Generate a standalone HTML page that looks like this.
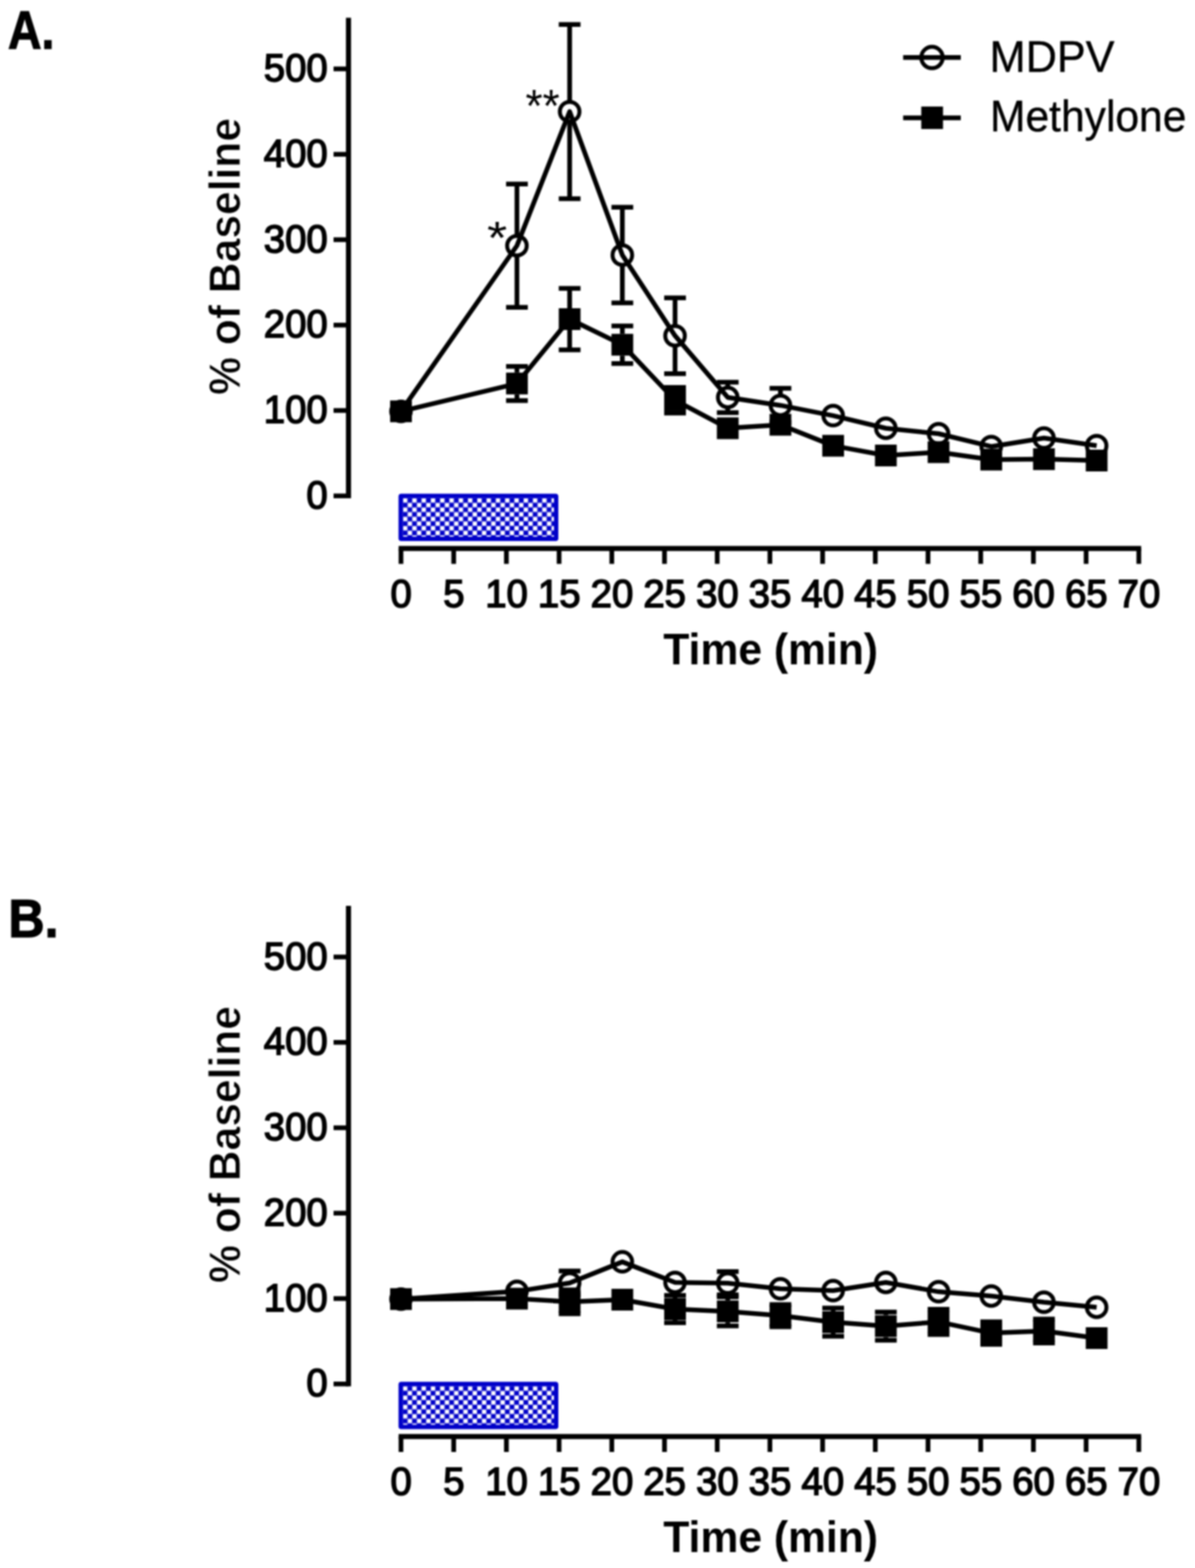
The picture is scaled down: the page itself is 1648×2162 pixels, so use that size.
<!DOCTYPE html>
<html><head><meta charset="utf-8"><title>MDPV vs Methylone</title>
<style>html,body{margin:0;padding:0;background:#fff;}svg{display:block;filter:blur(0.8px);}</style>
</head><body>
<svg width="1648" height="2162" viewBox="0 0 1648 2162">
<defs><pattern id="chk" x="555.6" y="686.8" width="12.8" height="12.8" patternUnits="userSpaceOnUse"><rect width="12.8" height="12.8" fill="#0000c8"/><rect x="0.15" y="0.15" width="6.1" height="6.1" fill="#fff"/><rect x="6.55" y="6.55" width="6.1" height="6.1" fill="#fff"/></pattern></defs>
<rect width="1648" height="2162" fill="#fff"/>
<g><text x="11.00" y="66.50" textLength="64.00" lengthAdjust="spacingAndGlyphs" stroke="#000" stroke-width="1.5" style="font-family:'Liberation Sans',Arial,sans-serif;font-size:75px;font-weight:bold">A.</text>
<line x1="480.6" y1="24.5" x2="480.6" y2="687.00" stroke="#000" stroke-width="7"/>
<line x1="460" y1="683.75" x2="480.6" y2="683.75" stroke="#000" stroke-width="6.5"/>
<text x="452.00" y="700.80" text-anchor="end" textLength="29.39" lengthAdjust="spacingAndGlyphs" stroke="#000" stroke-width="2.0" style="font-family:'Liberation Sans',Arial,sans-serif;font-size:54.5px;font-weight:normal">0</text>
<line x1="460" y1="566.00" x2="480.6" y2="566.00" stroke="#000" stroke-width="6.5"/>
<text x="452.00" y="583.05" text-anchor="end" textLength="88.18" lengthAdjust="spacingAndGlyphs" stroke="#000" stroke-width="2.0" style="font-family:'Liberation Sans',Arial,sans-serif;font-size:54.5px;font-weight:normal">100</text>
<line x1="460" y1="448.25" x2="480.6" y2="448.25" stroke="#000" stroke-width="6.5"/>
<text x="452.00" y="465.30" text-anchor="end" textLength="88.18" lengthAdjust="spacingAndGlyphs" stroke="#000" stroke-width="2.0" style="font-family:'Liberation Sans',Arial,sans-serif;font-size:54.5px;font-weight:normal">200</text>
<line x1="460" y1="330.50" x2="480.6" y2="330.50" stroke="#000" stroke-width="6.5"/>
<text x="452.00" y="347.55" text-anchor="end" textLength="88.18" lengthAdjust="spacingAndGlyphs" stroke="#000" stroke-width="2.0" style="font-family:'Liberation Sans',Arial,sans-serif;font-size:54.5px;font-weight:normal">300</text>
<line x1="460" y1="212.75" x2="480.6" y2="212.75" stroke="#000" stroke-width="6.5"/>
<text x="452.00" y="229.80" text-anchor="end" textLength="88.18" lengthAdjust="spacingAndGlyphs" stroke="#000" stroke-width="2.0" style="font-family:'Liberation Sans',Arial,sans-serif;font-size:54.5px;font-weight:normal">400</text>
<line x1="460" y1="95.00" x2="480.6" y2="95.00" stroke="#000" stroke-width="6.5"/>
<text x="452.00" y="112.05" text-anchor="end" textLength="88.18" lengthAdjust="spacingAndGlyphs" stroke="#000" stroke-width="2.0" style="font-family:'Liberation Sans',Arial,sans-serif;font-size:54.5px;font-weight:normal">500</text>
<text x="0.00" y="0.00" textLength="381.89" lengthAdjust="spacingAndGlyphs" stroke="#fff" stroke-width="0.8" transform="translate(330.6,544.5) rotate(-90)" style="font-family:'Liberation Sans',Arial,sans-serif;font-size:61px;font-weight:bold">% of Baseline</text>
<line x1="549.75" y1="756.25" x2="1573.77" y2="756.25" stroke="#000" stroke-width="7"/>
<line x1="553.00" y1="756.25" x2="553.00" y2="777.5" stroke="#000" stroke-width="6.5"/>
<text x="553.20" y="836.50" text-anchor="middle" textLength="29.39" lengthAdjust="spacingAndGlyphs" stroke="#000" stroke-width="2.0" style="font-family:'Liberation Sans',Arial,sans-serif;font-size:54.5px;font-weight:normal">0</text>
<line x1="625.68" y1="756.25" x2="625.68" y2="777.5" stroke="#000" stroke-width="6.5"/>
<text x="625.88" y="836.50" text-anchor="middle" textLength="29.39" lengthAdjust="spacingAndGlyphs" stroke="#000" stroke-width="2.0" style="font-family:'Liberation Sans',Arial,sans-serif;font-size:54.5px;font-weight:normal">5</text>
<line x1="698.36" y1="756.25" x2="698.36" y2="777.5" stroke="#000" stroke-width="6.5"/>
<text x="698.56" y="836.50" text-anchor="middle" textLength="58.79" lengthAdjust="spacingAndGlyphs" stroke="#000" stroke-width="2.0" style="font-family:'Liberation Sans',Arial,sans-serif;font-size:54.5px;font-weight:normal">10</text>
<line x1="771.04" y1="756.25" x2="771.04" y2="777.5" stroke="#000" stroke-width="6.5"/>
<text x="771.24" y="836.50" text-anchor="middle" textLength="58.79" lengthAdjust="spacingAndGlyphs" stroke="#000" stroke-width="2.0" style="font-family:'Liberation Sans',Arial,sans-serif;font-size:54.5px;font-weight:normal">15</text>
<line x1="843.72" y1="756.25" x2="843.72" y2="777.5" stroke="#000" stroke-width="6.5"/>
<text x="843.92" y="836.50" text-anchor="middle" textLength="58.79" lengthAdjust="spacingAndGlyphs" stroke="#000" stroke-width="2.0" style="font-family:'Liberation Sans',Arial,sans-serif;font-size:54.5px;font-weight:normal">20</text>
<line x1="916.40" y1="756.25" x2="916.40" y2="777.5" stroke="#000" stroke-width="6.5"/>
<text x="916.60" y="836.50" text-anchor="middle" textLength="58.79" lengthAdjust="spacingAndGlyphs" stroke="#000" stroke-width="2.0" style="font-family:'Liberation Sans',Arial,sans-serif;font-size:54.5px;font-weight:normal">25</text>
<line x1="989.08" y1="756.25" x2="989.08" y2="777.5" stroke="#000" stroke-width="6.5"/>
<text x="989.28" y="836.50" text-anchor="middle" textLength="58.79" lengthAdjust="spacingAndGlyphs" stroke="#000" stroke-width="2.0" style="font-family:'Liberation Sans',Arial,sans-serif;font-size:54.5px;font-weight:normal">30</text>
<line x1="1061.76" y1="756.25" x2="1061.76" y2="777.5" stroke="#000" stroke-width="6.5"/>
<text x="1061.96" y="836.50" text-anchor="middle" textLength="58.79" lengthAdjust="spacingAndGlyphs" stroke="#000" stroke-width="2.0" style="font-family:'Liberation Sans',Arial,sans-serif;font-size:54.5px;font-weight:normal">35</text>
<line x1="1134.44" y1="756.25" x2="1134.44" y2="777.5" stroke="#000" stroke-width="6.5"/>
<text x="1134.64" y="836.50" text-anchor="middle" textLength="58.79" lengthAdjust="spacingAndGlyphs" stroke="#000" stroke-width="2.0" style="font-family:'Liberation Sans',Arial,sans-serif;font-size:54.5px;font-weight:normal">40</text>
<line x1="1207.12" y1="756.25" x2="1207.12" y2="777.5" stroke="#000" stroke-width="6.5"/>
<text x="1207.32" y="836.50" text-anchor="middle" textLength="58.79" lengthAdjust="spacingAndGlyphs" stroke="#000" stroke-width="2.0" style="font-family:'Liberation Sans',Arial,sans-serif;font-size:54.5px;font-weight:normal">45</text>
<line x1="1279.80" y1="756.25" x2="1279.80" y2="777.5" stroke="#000" stroke-width="6.5"/>
<text x="1280.00" y="836.50" text-anchor="middle" textLength="58.79" lengthAdjust="spacingAndGlyphs" stroke="#000" stroke-width="2.0" style="font-family:'Liberation Sans',Arial,sans-serif;font-size:54.5px;font-weight:normal">50</text>
<line x1="1352.48" y1="756.25" x2="1352.48" y2="777.5" stroke="#000" stroke-width="6.5"/>
<text x="1352.68" y="836.50" text-anchor="middle" textLength="58.79" lengthAdjust="spacingAndGlyphs" stroke="#000" stroke-width="2.0" style="font-family:'Liberation Sans',Arial,sans-serif;font-size:54.5px;font-weight:normal">55</text>
<line x1="1425.16" y1="756.25" x2="1425.16" y2="777.5" stroke="#000" stroke-width="6.5"/>
<text x="1425.36" y="836.50" text-anchor="middle" textLength="58.79" lengthAdjust="spacingAndGlyphs" stroke="#000" stroke-width="2.0" style="font-family:'Liberation Sans',Arial,sans-serif;font-size:54.5px;font-weight:normal">60</text>
<line x1="1497.84" y1="756.25" x2="1497.84" y2="777.5" stroke="#000" stroke-width="6.5"/>
<text x="1498.04" y="836.50" text-anchor="middle" textLength="58.79" lengthAdjust="spacingAndGlyphs" stroke="#000" stroke-width="2.0" style="font-family:'Liberation Sans',Arial,sans-serif;font-size:54.5px;font-weight:normal">65</text>
<line x1="1570.52" y1="756.25" x2="1570.52" y2="777.5" stroke="#000" stroke-width="6.5"/>
<text x="1570.72" y="836.50" text-anchor="middle" textLength="58.79" lengthAdjust="spacingAndGlyphs" stroke="#000" stroke-width="2.0" style="font-family:'Liberation Sans',Arial,sans-serif;font-size:54.5px;font-weight:normal">70</text>
<text x="914.75" y="915.95" textLength="296.14" lengthAdjust="spacingAndGlyphs" style="font-family:'Liberation Sans',Arial,sans-serif;font-size:61px;font-weight:bold">Time (min)</text>
<rect x="552.6" y="683.8" width="214.4" height="59.2" rx="0.8" fill="url(#chk)" stroke="#0000c8" stroke-width="6"/>
<polyline points="553.00,567.18 712.90,338.74 785.58,153.88 858.26,351.69 930.94,462.97 1003.62,547.98 1076.30,558.93 1148.98,573.07 1221.66,590.49 1294.34,598.03 1367.02,615.69 1439.70,604.03 1512.38,614.51" fill="none" stroke="#000" stroke-width="6.5" stroke-linejoin="round"/>
<polyline points="553.00,567.18 712.90,528.79 785.58,440.01 858.26,475.33 930.94,551.87 1003.62,590.49 1076.30,585.66 1148.98,614.63 1221.66,628.05 1294.34,623.46 1367.02,633.71 1439.70,633.12 1512.38,635.00" fill="none" stroke="#000" stroke-width="6.5" stroke-linejoin="round"/>
<line x1="712.90" y1="325.24" x2="712.90" y2="253.73" stroke="#000" stroke-width="6.5"/>
<line x1="697.90" y1="253.73" x2="727.90" y2="253.73" stroke="#000" stroke-width="6.5"/>
<line x1="712.90" y1="352.24" x2="712.90" y2="423.76" stroke="#000" stroke-width="6.5"/>
<line x1="697.90" y1="423.76" x2="727.90" y2="423.76" stroke="#000" stroke-width="6.5"/>
<line x1="785.58" y1="140.38" x2="785.58" y2="33.77" stroke="#000" stroke-width="6.5"/>
<line x1="770.58" y1="33.77" x2="800.58" y2="33.77" stroke="#000" stroke-width="6.5"/>
<line x1="785.58" y1="167.38" x2="785.58" y2="273.98" stroke="#000" stroke-width="6.5"/>
<line x1="770.58" y1="273.98" x2="800.58" y2="273.98" stroke="#000" stroke-width="6.5"/>
<line x1="858.26" y1="338.19" x2="858.26" y2="285.75" stroke="#000" stroke-width="6.5"/>
<line x1="843.26" y1="285.75" x2="873.26" y2="285.75" stroke="#000" stroke-width="6.5"/>
<line x1="858.26" y1="365.19" x2="858.26" y2="417.63" stroke="#000" stroke-width="6.5"/>
<line x1="843.26" y1="417.63" x2="873.26" y2="417.63" stroke="#000" stroke-width="6.5"/>
<line x1="930.94" y1="449.47" x2="930.94" y2="410.69" stroke="#000" stroke-width="6.5"/>
<line x1="915.94" y1="410.69" x2="945.94" y2="410.69" stroke="#000" stroke-width="6.5"/>
<line x1="930.94" y1="476.47" x2="930.94" y2="515.25" stroke="#000" stroke-width="6.5"/>
<line x1="915.94" y1="515.25" x2="945.94" y2="515.25" stroke="#000" stroke-width="6.5"/>
<line x1="1003.62" y1="534.48" x2="1003.62" y2="527.02" stroke="#000" stroke-width="6.5"/>
<line x1="988.62" y1="527.02" x2="1018.62" y2="527.02" stroke="#000" stroke-width="6.5"/>
<line x1="1003.62" y1="561.48" x2="1003.62" y2="568.94" stroke="#000" stroke-width="6.5"/>
<line x1="988.62" y1="568.94" x2="1018.62" y2="568.94" stroke="#000" stroke-width="6.5"/>
<line x1="1076.30" y1="545.43" x2="1076.30" y2="535.38" stroke="#000" stroke-width="6.5"/>
<line x1="1061.30" y1="535.38" x2="1091.30" y2="535.38" stroke="#000" stroke-width="6.5"/>
<line x1="1076.30" y1="572.43" x2="1076.30" y2="582.48" stroke="#000" stroke-width="6.5"/>
<line x1="1061.30" y1="582.48" x2="1091.30" y2="582.48" stroke="#000" stroke-width="6.5"/>
<line x1="712.90" y1="513.79" x2="712.90" y2="505.24" stroke="#000" stroke-width="6.5"/>
<line x1="697.90" y1="505.24" x2="727.90" y2="505.24" stroke="#000" stroke-width="6.5"/>
<line x1="712.90" y1="543.79" x2="712.90" y2="552.34" stroke="#000" stroke-width="6.5"/>
<line x1="697.90" y1="552.34" x2="727.90" y2="552.34" stroke="#000" stroke-width="6.5"/>
<line x1="785.58" y1="425.01" x2="785.58" y2="397.62" stroke="#000" stroke-width="6.5"/>
<line x1="770.58" y1="397.62" x2="800.58" y2="397.62" stroke="#000" stroke-width="6.5"/>
<line x1="785.58" y1="455.01" x2="785.58" y2="482.40" stroke="#000" stroke-width="6.5"/>
<line x1="770.58" y1="482.40" x2="800.58" y2="482.40" stroke="#000" stroke-width="6.5"/>
<line x1="858.26" y1="460.33" x2="858.26" y2="449.43" stroke="#000" stroke-width="6.5"/>
<line x1="843.26" y1="449.43" x2="873.26" y2="449.43" stroke="#000" stroke-width="6.5"/>
<line x1="858.26" y1="490.33" x2="858.26" y2="501.24" stroke="#000" stroke-width="6.5"/>
<line x1="843.26" y1="501.24" x2="873.26" y2="501.24" stroke="#000" stroke-width="6.5"/>
<line x1="930.94" y1="536.87" x2="930.94" y2="534.21" stroke="#000" stroke-width="6.5"/>
<line x1="915.94" y1="534.21" x2="945.94" y2="534.21" stroke="#000" stroke-width="6.5"/>
<line x1="930.94" y1="566.87" x2="930.94" y2="569.53" stroke="#000" stroke-width="6.5"/>
<line x1="915.94" y1="569.53" x2="945.94" y2="569.53" stroke="#000" stroke-width="6.5"/>
<circle cx="553.00" cy="567.18" r="13.5" fill="none" stroke="#000" stroke-width="5.5"/>
<circle cx="712.90" cy="338.74" r="13.5" fill="none" stroke="#000" stroke-width="5.5"/>
<circle cx="785.58" cy="153.88" r="13.5" fill="none" stroke="#000" stroke-width="5.5"/>
<circle cx="858.26" cy="351.69" r="13.5" fill="none" stroke="#000" stroke-width="5.5"/>
<circle cx="930.94" cy="462.97" r="13.5" fill="none" stroke="#000" stroke-width="5.5"/>
<circle cx="1003.62" cy="547.98" r="13.5" fill="none" stroke="#000" stroke-width="5.5"/>
<circle cx="1076.30" cy="558.93" r="13.5" fill="none" stroke="#000" stroke-width="5.5"/>
<circle cx="1148.98" cy="573.07" r="13.5" fill="none" stroke="#000" stroke-width="5.5"/>
<circle cx="1221.66" cy="590.49" r="13.5" fill="none" stroke="#000" stroke-width="5.5"/>
<circle cx="1294.34" cy="598.03" r="13.5" fill="none" stroke="#000" stroke-width="5.5"/>
<circle cx="1367.02" cy="615.69" r="13.5" fill="none" stroke="#000" stroke-width="5.5"/>
<circle cx="1439.70" cy="604.03" r="13.5" fill="none" stroke="#000" stroke-width="5.5"/>
<circle cx="1512.38" cy="614.51" r="13.5" fill="none" stroke="#000" stroke-width="5.5"/>
<rect x="538.00" y="552.18" width="30.0" height="30.0" fill="#000"/>
<rect x="697.90" y="513.79" width="30.0" height="30.0" fill="#000"/>
<rect x="770.58" y="425.01" width="30.0" height="30.0" fill="#000"/>
<rect x="843.26" y="460.33" width="30.0" height="30.0" fill="#000"/>
<rect x="915.94" y="536.87" width="30.0" height="30.0" fill="#000"/>
<rect x="988.62" y="575.49" width="30.0" height="30.0" fill="#000"/>
<rect x="1061.30" y="570.66" width="30.0" height="30.0" fill="#000"/>
<rect x="1133.98" y="599.63" width="30.0" height="30.0" fill="#000"/>
<rect x="1206.66" y="613.05" width="30.0" height="30.0" fill="#000"/>
<rect x="1279.34" y="608.46" width="30.0" height="30.0" fill="#000"/>
<rect x="1352.02" y="618.71" width="30.0" height="30.0" fill="#000"/>
<rect x="1424.70" y="618.12" width="30.0" height="30.0" fill="#000"/>
<rect x="1497.38" y="620.00" width="30.0" height="30.0" fill="#000"/>
<text x="724.75" y="167.30" textLength="47.18" lengthAdjust="spacingAndGlyphs" style="font-family:'Liberation Sans',Arial,sans-serif;font-size:63px;font-weight:normal">**</text>
<text x="671.85" y="349.00" textLength="27.68" lengthAdjust="spacingAndGlyphs" style="font-family:'Liberation Sans',Arial,sans-serif;font-size:63px;font-weight:normal">*</text>
<line x1="1245.5" y1="79.3" x2="1325" y2="79.3" stroke="#000" stroke-width="6.5"/>
<circle cx="1285.3" cy="79.3" r="14.75" fill="none" stroke="#000" stroke-width="5.5"/>
<text x="1364.85" y="99.25" textLength="172.16" lengthAdjust="spacingAndGlyphs" stroke="#000" stroke-width="0.5" style="font-family:'Liberation Sans',Arial,sans-serif;font-size:62px;font-weight:normal">MDPV</text>
<line x1="1245.5" y1="162.5" x2="1325" y2="162.5" stroke="#000" stroke-width="6.5"/>
<rect x="1270.5" y="146.9" width="30" height="31" fill="#000"/>
<text x="1365.35" y="181.00" textLength="270.75" lengthAdjust="spacingAndGlyphs" stroke="#000" stroke-width="0.5" style="font-family:'Liberation Sans',Arial,sans-serif;font-size:62px;font-weight:normal">Methylone</text></g>
<g transform="translate(0,1224.5)"><text x="11.50" y="67.20" textLength="69.30" lengthAdjust="spacingAndGlyphs" stroke="#000" stroke-width="1.5" style="font-family:'Liberation Sans',Arial,sans-serif;font-size:75px;font-weight:bold">B.</text>
<line x1="480.6" y1="24.5" x2="480.6" y2="687.00" stroke="#000" stroke-width="7"/>
<line x1="460" y1="683.75" x2="480.6" y2="683.75" stroke="#000" stroke-width="6.5"/>
<text x="452.00" y="700.80" text-anchor="end" textLength="29.39" lengthAdjust="spacingAndGlyphs" stroke="#000" stroke-width="2.0" style="font-family:'Liberation Sans',Arial,sans-serif;font-size:54.5px;font-weight:normal">0</text>
<line x1="460" y1="566.00" x2="480.6" y2="566.00" stroke="#000" stroke-width="6.5"/>
<text x="452.00" y="583.05" text-anchor="end" textLength="88.18" lengthAdjust="spacingAndGlyphs" stroke="#000" stroke-width="2.0" style="font-family:'Liberation Sans',Arial,sans-serif;font-size:54.5px;font-weight:normal">100</text>
<line x1="460" y1="448.25" x2="480.6" y2="448.25" stroke="#000" stroke-width="6.5"/>
<text x="452.00" y="465.30" text-anchor="end" textLength="88.18" lengthAdjust="spacingAndGlyphs" stroke="#000" stroke-width="2.0" style="font-family:'Liberation Sans',Arial,sans-serif;font-size:54.5px;font-weight:normal">200</text>
<line x1="460" y1="330.50" x2="480.6" y2="330.50" stroke="#000" stroke-width="6.5"/>
<text x="452.00" y="347.55" text-anchor="end" textLength="88.18" lengthAdjust="spacingAndGlyphs" stroke="#000" stroke-width="2.0" style="font-family:'Liberation Sans',Arial,sans-serif;font-size:54.5px;font-weight:normal">300</text>
<line x1="460" y1="212.75" x2="480.6" y2="212.75" stroke="#000" stroke-width="6.5"/>
<text x="452.00" y="229.80" text-anchor="end" textLength="88.18" lengthAdjust="spacingAndGlyphs" stroke="#000" stroke-width="2.0" style="font-family:'Liberation Sans',Arial,sans-serif;font-size:54.5px;font-weight:normal">400</text>
<line x1="460" y1="95.00" x2="480.6" y2="95.00" stroke="#000" stroke-width="6.5"/>
<text x="452.00" y="112.05" text-anchor="end" textLength="88.18" lengthAdjust="spacingAndGlyphs" stroke="#000" stroke-width="2.0" style="font-family:'Liberation Sans',Arial,sans-serif;font-size:54.5px;font-weight:normal">500</text>
<text x="0.00" y="0.00" textLength="381.89" lengthAdjust="spacingAndGlyphs" stroke="#fff" stroke-width="0.8" transform="translate(330.6,544.5) rotate(-90)" style="font-family:'Liberation Sans',Arial,sans-serif;font-size:61px;font-weight:bold">% of Baseline</text>
<line x1="549.75" y1="756.25" x2="1573.77" y2="756.25" stroke="#000" stroke-width="7"/>
<line x1="553.00" y1="756.25" x2="553.00" y2="777.5" stroke="#000" stroke-width="6.5"/>
<text x="553.20" y="836.50" text-anchor="middle" textLength="29.39" lengthAdjust="spacingAndGlyphs" stroke="#000" stroke-width="2.0" style="font-family:'Liberation Sans',Arial,sans-serif;font-size:54.5px;font-weight:normal">0</text>
<line x1="625.68" y1="756.25" x2="625.68" y2="777.5" stroke="#000" stroke-width="6.5"/>
<text x="625.88" y="836.50" text-anchor="middle" textLength="29.39" lengthAdjust="spacingAndGlyphs" stroke="#000" stroke-width="2.0" style="font-family:'Liberation Sans',Arial,sans-serif;font-size:54.5px;font-weight:normal">5</text>
<line x1="698.36" y1="756.25" x2="698.36" y2="777.5" stroke="#000" stroke-width="6.5"/>
<text x="698.56" y="836.50" text-anchor="middle" textLength="58.79" lengthAdjust="spacingAndGlyphs" stroke="#000" stroke-width="2.0" style="font-family:'Liberation Sans',Arial,sans-serif;font-size:54.5px;font-weight:normal">10</text>
<line x1="771.04" y1="756.25" x2="771.04" y2="777.5" stroke="#000" stroke-width="6.5"/>
<text x="771.24" y="836.50" text-anchor="middle" textLength="58.79" lengthAdjust="spacingAndGlyphs" stroke="#000" stroke-width="2.0" style="font-family:'Liberation Sans',Arial,sans-serif;font-size:54.5px;font-weight:normal">15</text>
<line x1="843.72" y1="756.25" x2="843.72" y2="777.5" stroke="#000" stroke-width="6.5"/>
<text x="843.92" y="836.50" text-anchor="middle" textLength="58.79" lengthAdjust="spacingAndGlyphs" stroke="#000" stroke-width="2.0" style="font-family:'Liberation Sans',Arial,sans-serif;font-size:54.5px;font-weight:normal">20</text>
<line x1="916.40" y1="756.25" x2="916.40" y2="777.5" stroke="#000" stroke-width="6.5"/>
<text x="916.60" y="836.50" text-anchor="middle" textLength="58.79" lengthAdjust="spacingAndGlyphs" stroke="#000" stroke-width="2.0" style="font-family:'Liberation Sans',Arial,sans-serif;font-size:54.5px;font-weight:normal">25</text>
<line x1="989.08" y1="756.25" x2="989.08" y2="777.5" stroke="#000" stroke-width="6.5"/>
<text x="989.28" y="836.50" text-anchor="middle" textLength="58.79" lengthAdjust="spacingAndGlyphs" stroke="#000" stroke-width="2.0" style="font-family:'Liberation Sans',Arial,sans-serif;font-size:54.5px;font-weight:normal">30</text>
<line x1="1061.76" y1="756.25" x2="1061.76" y2="777.5" stroke="#000" stroke-width="6.5"/>
<text x="1061.96" y="836.50" text-anchor="middle" textLength="58.79" lengthAdjust="spacingAndGlyphs" stroke="#000" stroke-width="2.0" style="font-family:'Liberation Sans',Arial,sans-serif;font-size:54.5px;font-weight:normal">35</text>
<line x1="1134.44" y1="756.25" x2="1134.44" y2="777.5" stroke="#000" stroke-width="6.5"/>
<text x="1134.64" y="836.50" text-anchor="middle" textLength="58.79" lengthAdjust="spacingAndGlyphs" stroke="#000" stroke-width="2.0" style="font-family:'Liberation Sans',Arial,sans-serif;font-size:54.5px;font-weight:normal">40</text>
<line x1="1207.12" y1="756.25" x2="1207.12" y2="777.5" stroke="#000" stroke-width="6.5"/>
<text x="1207.32" y="836.50" text-anchor="middle" textLength="58.79" lengthAdjust="spacingAndGlyphs" stroke="#000" stroke-width="2.0" style="font-family:'Liberation Sans',Arial,sans-serif;font-size:54.5px;font-weight:normal">45</text>
<line x1="1279.80" y1="756.25" x2="1279.80" y2="777.5" stroke="#000" stroke-width="6.5"/>
<text x="1280.00" y="836.50" text-anchor="middle" textLength="58.79" lengthAdjust="spacingAndGlyphs" stroke="#000" stroke-width="2.0" style="font-family:'Liberation Sans',Arial,sans-serif;font-size:54.5px;font-weight:normal">50</text>
<line x1="1352.48" y1="756.25" x2="1352.48" y2="777.5" stroke="#000" stroke-width="6.5"/>
<text x="1352.68" y="836.50" text-anchor="middle" textLength="58.79" lengthAdjust="spacingAndGlyphs" stroke="#000" stroke-width="2.0" style="font-family:'Liberation Sans',Arial,sans-serif;font-size:54.5px;font-weight:normal">55</text>
<line x1="1425.16" y1="756.25" x2="1425.16" y2="777.5" stroke="#000" stroke-width="6.5"/>
<text x="1425.36" y="836.50" text-anchor="middle" textLength="58.79" lengthAdjust="spacingAndGlyphs" stroke="#000" stroke-width="2.0" style="font-family:'Liberation Sans',Arial,sans-serif;font-size:54.5px;font-weight:normal">60</text>
<line x1="1497.84" y1="756.25" x2="1497.84" y2="777.5" stroke="#000" stroke-width="6.5"/>
<text x="1498.04" y="836.50" text-anchor="middle" textLength="58.79" lengthAdjust="spacingAndGlyphs" stroke="#000" stroke-width="2.0" style="font-family:'Liberation Sans',Arial,sans-serif;font-size:54.5px;font-weight:normal">65</text>
<line x1="1570.52" y1="756.25" x2="1570.52" y2="777.5" stroke="#000" stroke-width="6.5"/>
<text x="1570.72" y="836.50" text-anchor="middle" textLength="58.79" lengthAdjust="spacingAndGlyphs" stroke="#000" stroke-width="2.0" style="font-family:'Liberation Sans',Arial,sans-serif;font-size:54.5px;font-weight:normal">70</text>
<text x="914.75" y="915.95" textLength="296.14" lengthAdjust="spacingAndGlyphs" style="font-family:'Liberation Sans',Arial,sans-serif;font-size:61px;font-weight:bold">Time (min)</text>
<rect x="552.6" y="683.8" width="214.4" height="59.2" rx="0.8" fill="url(#chk)" stroke="#0000c8" stroke-width="6"/>
<polyline points="553.00,566.71 712.90,556.11 785.58,544.45 858.26,515.37 930.94,543.75 1003.62,544.81 1076.30,552.58 1148.98,555.05 1221.66,543.75 1294.34,556.58 1367.02,562.47 1439.70,571.06 1512.38,578.01" fill="none" stroke="#000" stroke-width="6.5" stroke-linejoin="round"/>
<polyline points="553.00,566.71 712.90,566.12 785.58,570.47 858.26,567.53 930.94,580.48 1003.62,583.66 1076.30,589.55 1148.98,598.50 1221.66,604.03 1294.34,598.15 1367.02,613.57 1439.70,610.75 1512.38,620.52" fill="none" stroke="#000" stroke-width="6.5" stroke-linejoin="round"/>
<line x1="785.58" y1="530.95" x2="785.58" y2="527.97" stroke="#000" stroke-width="6.5"/>
<line x1="770.58" y1="527.97" x2="800.58" y2="527.97" stroke="#000" stroke-width="6.5"/>
<line x1="785.58" y1="557.95" x2="785.58" y2="560.94" stroke="#000" stroke-width="6.5"/>
<line x1="770.58" y1="560.94" x2="800.58" y2="560.94" stroke="#000" stroke-width="6.5"/>
<line x1="1003.62" y1="531.31" x2="1003.62" y2="528.79" stroke="#000" stroke-width="6.5"/>
<line x1="988.62" y1="528.79" x2="1018.62" y2="528.79" stroke="#000" stroke-width="6.5"/>
<line x1="1003.62" y1="558.31" x2="1003.62" y2="560.82" stroke="#000" stroke-width="6.5"/>
<line x1="988.62" y1="560.82" x2="1018.62" y2="560.82" stroke="#000" stroke-width="6.5"/>
<line x1="785.58" y1="555.47" x2="785.58" y2="553.99" stroke="#000" stroke-width="6.5"/>
<line x1="770.58" y1="553.99" x2="800.58" y2="553.99" stroke="#000" stroke-width="6.5"/>
<line x1="785.58" y1="585.47" x2="785.58" y2="586.96" stroke="#000" stroke-width="6.5"/>
<line x1="770.58" y1="586.96" x2="800.58" y2="586.96" stroke="#000" stroke-width="6.5"/>
<line x1="930.94" y1="565.48" x2="930.94" y2="561.64" stroke="#000" stroke-width="6.5"/>
<line x1="915.94" y1="561.64" x2="945.94" y2="561.64" stroke="#000" stroke-width="6.5"/>
<line x1="930.94" y1="595.48" x2="930.94" y2="599.32" stroke="#000" stroke-width="6.5"/>
<line x1="915.94" y1="599.32" x2="945.94" y2="599.32" stroke="#000" stroke-width="6.5"/>
<line x1="1003.62" y1="568.66" x2="1003.62" y2="563.64" stroke="#000" stroke-width="6.5"/>
<line x1="988.62" y1="563.64" x2="1018.62" y2="563.64" stroke="#000" stroke-width="6.5"/>
<line x1="1003.62" y1="598.66" x2="1003.62" y2="603.68" stroke="#000" stroke-width="6.5"/>
<line x1="988.62" y1="603.68" x2="1018.62" y2="603.68" stroke="#000" stroke-width="6.5"/>
<line x1="1076.30" y1="574.55" x2="1076.30" y2="574.24" stroke="#000" stroke-width="6.5"/>
<line x1="1061.30" y1="574.24" x2="1091.30" y2="574.24" stroke="#000" stroke-width="6.5"/>
<line x1="1076.30" y1="604.55" x2="1076.30" y2="604.86" stroke="#000" stroke-width="6.5"/>
<line x1="1061.30" y1="604.86" x2="1091.30" y2="604.86" stroke="#000" stroke-width="6.5"/>
<line x1="1148.98" y1="583.50" x2="1148.98" y2="579.07" stroke="#000" stroke-width="6.5"/>
<line x1="1133.98" y1="579.07" x2="1163.98" y2="579.07" stroke="#000" stroke-width="6.5"/>
<line x1="1148.98" y1="613.50" x2="1148.98" y2="617.93" stroke="#000" stroke-width="6.5"/>
<line x1="1133.98" y1="617.93" x2="1163.98" y2="617.93" stroke="#000" stroke-width="6.5"/>
<line x1="1221.66" y1="589.03" x2="1221.66" y2="584.60" stroke="#000" stroke-width="6.5"/>
<line x1="1206.66" y1="584.60" x2="1236.66" y2="584.60" stroke="#000" stroke-width="6.5"/>
<line x1="1221.66" y1="619.03" x2="1221.66" y2="623.46" stroke="#000" stroke-width="6.5"/>
<line x1="1206.66" y1="623.46" x2="1236.66" y2="623.46" stroke="#000" stroke-width="6.5"/>
<line x1="1294.34" y1="583.15" x2="1294.34" y2="580.72" stroke="#000" stroke-width="6.5"/>
<line x1="1279.34" y1="580.72" x2="1309.34" y2="580.72" stroke="#000" stroke-width="6.5"/>
<line x1="1294.34" y1="613.15" x2="1294.34" y2="615.57" stroke="#000" stroke-width="6.5"/>
<line x1="1279.34" y1="615.57" x2="1309.34" y2="615.57" stroke="#000" stroke-width="6.5"/>
<line x1="1367.02" y1="598.57" x2="1367.02" y2="598.03" stroke="#000" stroke-width="6.5"/>
<line x1="1352.02" y1="598.03" x2="1382.02" y2="598.03" stroke="#000" stroke-width="6.5"/>
<line x1="1367.02" y1="628.57" x2="1367.02" y2="629.11" stroke="#000" stroke-width="6.5"/>
<line x1="1352.02" y1="629.11" x2="1382.02" y2="629.11" stroke="#000" stroke-width="6.5"/>
<line x1="1439.70" y1="595.75" x2="1439.70" y2="594.26" stroke="#000" stroke-width="6.5"/>
<line x1="1424.70" y1="594.26" x2="1454.70" y2="594.26" stroke="#000" stroke-width="6.5"/>
<line x1="1439.70" y1="625.75" x2="1439.70" y2="627.23" stroke="#000" stroke-width="6.5"/>
<line x1="1424.70" y1="627.23" x2="1454.70" y2="627.23" stroke="#000" stroke-width="6.5"/>
<circle cx="553.00" cy="566.71" r="13.5" fill="none" stroke="#000" stroke-width="5.5"/>
<circle cx="712.90" cy="556.11" r="13.5" fill="none" stroke="#000" stroke-width="5.5"/>
<circle cx="785.58" cy="544.45" r="13.5" fill="none" stroke="#000" stroke-width="5.5"/>
<circle cx="858.26" cy="515.37" r="13.5" fill="none" stroke="#000" stroke-width="5.5"/>
<circle cx="930.94" cy="543.75" r="13.5" fill="none" stroke="#000" stroke-width="5.5"/>
<circle cx="1003.62" cy="544.81" r="13.5" fill="none" stroke="#000" stroke-width="5.5"/>
<circle cx="1076.30" cy="552.58" r="13.5" fill="none" stroke="#000" stroke-width="5.5"/>
<circle cx="1148.98" cy="555.05" r="13.5" fill="none" stroke="#000" stroke-width="5.5"/>
<circle cx="1221.66" cy="543.75" r="13.5" fill="none" stroke="#000" stroke-width="5.5"/>
<circle cx="1294.34" cy="556.58" r="13.5" fill="none" stroke="#000" stroke-width="5.5"/>
<circle cx="1367.02" cy="562.47" r="13.5" fill="none" stroke="#000" stroke-width="5.5"/>
<circle cx="1439.70" cy="571.06" r="13.5" fill="none" stroke="#000" stroke-width="5.5"/>
<circle cx="1512.38" cy="578.01" r="13.5" fill="none" stroke="#000" stroke-width="5.5"/>
<rect x="538.00" y="551.71" width="30.0" height="30.0" fill="#000"/>
<rect x="697.90" y="551.12" width="30.0" height="30.0" fill="#000"/>
<rect x="770.58" y="555.47" width="30.0" height="30.0" fill="#000"/>
<rect x="843.26" y="552.53" width="30.0" height="30.0" fill="#000"/>
<rect x="915.94" y="565.48" width="30.0" height="30.0" fill="#000"/>
<rect x="988.62" y="568.66" width="30.0" height="30.0" fill="#000"/>
<rect x="1061.30" y="574.55" width="30.0" height="30.0" fill="#000"/>
<rect x="1133.98" y="583.50" width="30.0" height="30.0" fill="#000"/>
<rect x="1206.66" y="589.03" width="30.0" height="30.0" fill="#000"/>
<rect x="1279.34" y="583.15" width="30.0" height="30.0" fill="#000"/>
<rect x="1352.02" y="598.57" width="30.0" height="30.0" fill="#000"/>
<rect x="1424.70" y="595.75" width="30.0" height="30.0" fill="#000"/>
<rect x="1497.38" y="605.52" width="30.0" height="30.0" fill="#000"/></g>
</svg>
</body></html>
